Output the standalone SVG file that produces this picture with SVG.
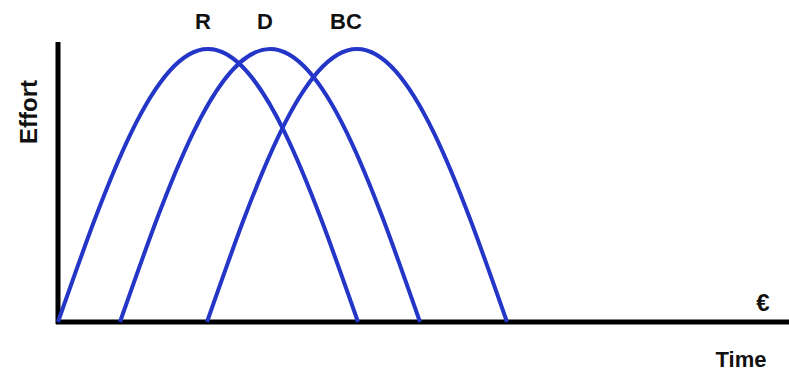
<svg xmlns="http://www.w3.org/2000/svg" width="789" height="373" viewBox="0 0 789 373">
<style>
.curve{fill:none;stroke:#2436c8;stroke-width:4;stroke-linecap:butt}
.axis{stroke:#000;stroke-width:5;fill:none}
.lbl{font-family:"Liberation Sans",Arial,sans-serif;font-weight:bold;fill:#111;text-anchor:middle}
</style>
<rect width="789" height="373" fill="#fff"/>
<g id="axes">
<line class="axis" x1="58" y1="42" x2="58" y2="324"/>
<line class="axis" x1="56" y1="322" x2="789" y2="322"/>
</g>
<g id="connectors">
<path id="curve-R" class="curve" d="M58,322 C106.9,182.1 153.7,49 208,49 C262.3,49 309.1,182.1 358,322"/>
<path id="curve-D" class="curve" d="M120,322 C168.9,182.1 215.7,49 270,49 C324.3,49 371.1,182.1 420,322"/>
<path id="curve-BC" class="curve" d="M207,322 C255.9,182.1 302.7,49 357,49 C411.3,49 458.1,182.1 507,322"/>
</g>
<g id="label-R"><text class="lbl" x="203" y="29" font-size="22">R</text></g>
<g id="label-D"><text class="lbl" x="265" y="29" font-size="22">D</text></g>
<g id="label-BC"><text class="lbl" x="346" y="29" font-size="22">BC</text></g>
<g id="label-effort"><text class="lbl" x="0" y="0" font-size="24" transform="translate(37,112) rotate(-90)">Effort</text></g>
<g id="label-time"><text class="lbl" x="741" y="367" font-size="22">Time</text></g>
<g id="label-euro"><text class="lbl" x="763" y="311" font-size="24">€</text></g>
</svg>
